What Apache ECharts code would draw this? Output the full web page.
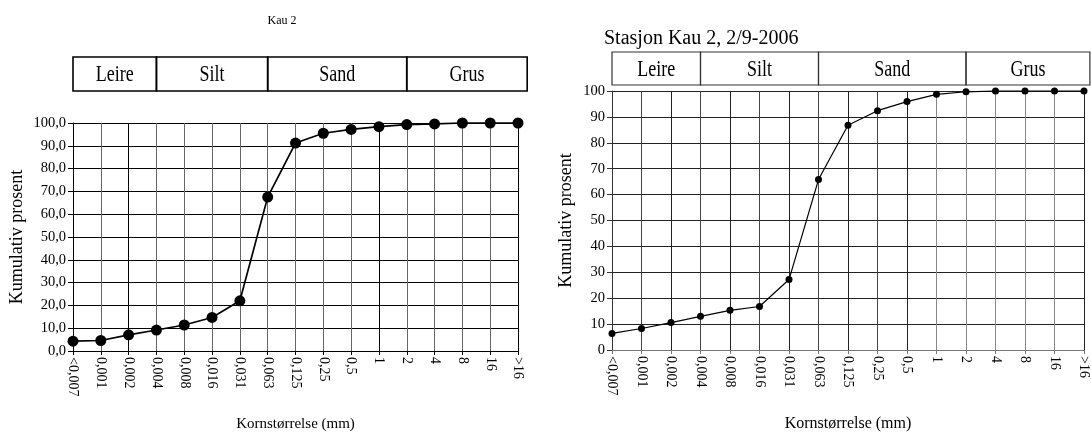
<!DOCTYPE html>
<html>
<head>
<meta charset="utf-8">
<script src="https://cdn.jsdelivr.net/npm/echarts@6/dist/echarts.min.js"></script>
<style>
  html, body { margin: 0; padding: 0; background: #fff; }
  #chart { width: 1091px; height: 437px; }
</style>
</head>
<body>
<div id="chart"></div>
<script>
// Grain size classes (mm) shared by both cumulative curves
const sizeClasses = ['<0,007', '0,001', '0,002', '0,004', '0,008', '0,016', '0,031', '0,063',
  '0,125', '0,25', '0,5', '1', '2', '4', '8', '16', '>16'];

// Cumulative percent passing, Kau 2
const kau2Percent = [4.3, 4.6, 7.1, 9.2, 11.4, 14.7, 22.0, 67.5, 91.2, 95.5, 97.2, 98.4, 99.3, 99.6, 100, 100, 100];

// Cumulative percent passing, Stasjon Kau 2, 2/9-2006
const stasjonPercent = [6.4, 8.3, 10.6, 13.0, 15.3, 16.8, 27.2, 65.8, 86.8, 92.4, 95.9, 98.7, 99.7, 100, 100, 100, 100];

// Fraction bands above the plots, given as class index ranges
const fractionNames = ['Leire', 'Silt', 'Sand', 'Grus'];
const fractionFrom = [0, 3, 7, 12];
const fractionTo = [3, 7, 12, 16];

// Value axis ticks
const yMin = 0, yMax = 100, yStep = 10;

const FONT = '"Liberation Serif", "DejaVu Serif", serif';

const chart = echarts.init(document.getElementById('chart'), null, { renderer: 'canvas' });

function xAxisFor(gridIndex, lineColor, splitColors, nameSize) {
  return {
    type: 'category',
    gridIndex,
    data: sizeClasses,
    boundaryGap: false,
    name: 'Kornstørrelse (mm)',
    nameLocation: 'middle',
    nameGap: 66,
    nameTextStyle: { fontFamily: FONT, fontSize: nameSize, color: '#000' },
    axisLine: { show: true, lineStyle: { color: lineColor, width: 1 } },
    axisTick: { show: true, length: 4, lineStyle: { color: lineColor } },
    axisLabel: { rotate: -90, fontFamily: FONT, fontSize: 14, color: '#000', margin: 6, interval: 0 },
    splitLine: { show: true, lineStyle: { color: splitColors, width: 1 } }
  };
}

function yAxisFor(gridIndex, nameGap, fmt, gridColor, axisColor) {
  return {
    type: 'value',
    gridIndex,
    min: yMin, max: yMax, interval: yStep,
    name: 'Kumulativ prosent',
    nameLocation: 'middle',
    nameGap,
    nameTextStyle: { fontFamily: FONT, fontSize: 18, color: '#000' },
    axisLine: { show: true, lineStyle: { color: axisColor, width: 1 } },
    axisTick: { show: true, length: 5, lineStyle: { color: axisColor } },
    axisLabel: { fontFamily: FONT, fontSize: 14.5, color: '#000', margin: 7, formatter: fmt },
    splitLine: { show: true, lineStyle: { color: gridColor, width: 1 } }
  };
}

// Vertical grid line shades, one per size class
const leftSplit = sizeClasses.map((_, i) => (i === 0 || i === 2 || i === 11 || i === 16) ? '#000' : '#666');
const rightSplit = sizeClasses.map((_, i) => {
  if (i === 0 || i === 16) return '#222';
  if (i >= 11) return '#888';
  return i % 2 === 1 ? '#444' : '#222';
});

const option = {
  animation: false,
  backgroundColor: '#fff',
  grid: [
    { left: 73, top: 123, width: 445, height: 230 },
    { left: 612, top: 91, width: 475, height: 262 }
  ],
  xAxis: [
    xAxisFor(0, '#000', leftSplit, 15),
    xAxisFor(1, '#777', rightSplit, 16)
  ],
  yAxis: [
    yAxisFor(0, 47, v => v.toFixed(1).replace('.', ','), '#000', '#000'),
    yAxisFor(1, 37, v => String(v), '#222', '#333')
  ],
  series: [
    {
      type: 'line', xAxisIndex: 0, yAxisIndex: 0, data: kau2Percent,
      symbol: 'circle', symbolSize: 11, clip: false, z: 5,
      lineStyle: { color: '#000', width: 1.7 },
      itemStyle: { color: '#000' }
    },
    {
      type: 'line', xAxisIndex: 1, yAxisIndex: 1, data: stasjonPercent,
      symbol: 'circle', symbolSize: 7, clip: false, z: 5,
      lineStyle: { color: '#000', width: 1.2 },
      itemStyle: { color: '#000' }
    }
  ]
};

chart.setOption(option);

// Header band of soil fractions, placed from the category scale of each plot
function fractionBand(axisIndex, top, bottom, overhang, stroke, width, fontSize) {
  const els = [];
  const px = i => chart.convertToPixel({ xAxisIndex: axisIndex }, i);
  const step = px(1) - px(0);
  fractionNames.forEach((name, k) => {
    const x0 = px(fractionFrom[k]);
    let x1 = px(fractionTo[k]);
    if (k === fractionNames.length - 1) x1 += step * overhang;
    els.push({
      type: 'rect',
      shape: { x: x0, y: top, width: x1 - x0, height: bottom - top },
      style: { fill: 'none', stroke, lineWidth: width },
      z: 10
    });
    els.push({
      type: 'text',
      x: (x0 + x1) / 2, y: (top + bottom) / 2 + 1,
      scaleY: 1.3,
      style: { text: name, font: fontSize + 'px ' + FONT, fill: '#000', align: 'center', verticalAlign: 'middle' },
      z: 11
    });
  });
  return els;
}

const graphics = []
  .concat(fractionBand(0, 57, 91, 0.33, '#000', 1.6, 18))
  .concat(fractionBand(1, 52, 85, 0.2, '#333', 1.2, 18));

graphics.push({
  type: 'text', x: 282, y: 21,
  style: { text: 'Kau 2', font: '12px ' + FONT, fill: '#000', align: 'center', verticalAlign: 'middle' }
});
graphics.push({
  type: 'text', x: 604, y: 49,
  style: { text: 'Stasjon Kau 2, 2/9-2006', font: '20px ' + FONT, fill: '#000', align: 'left', verticalAlign: 'bottom' }
});

chart.setOption({ graphic: graphics });
</script>
</body>
</html>
